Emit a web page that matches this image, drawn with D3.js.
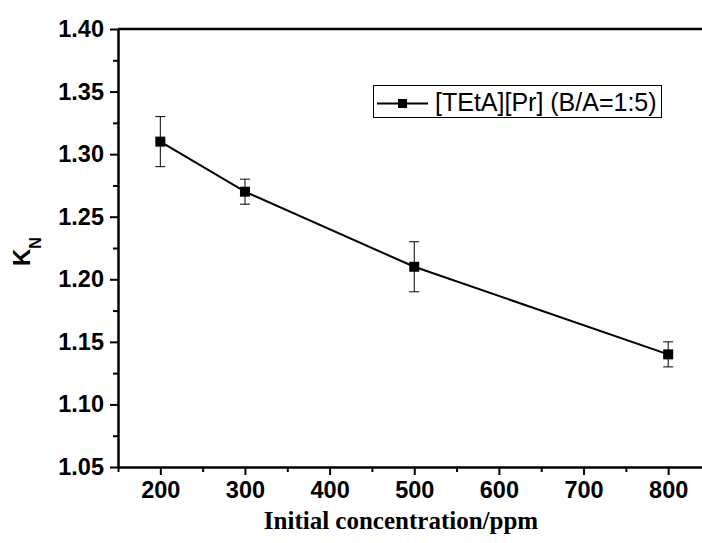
<!DOCTYPE html>
<html>
<head>
<meta charset="utf-8">
<script src="https://cdn.jsdelivr.net/npm/d3@7"></script>
<style>
  body { margin: 0; background: #fff; }
  svg { display: block; }
</style>
</head>
<body>
<div id="chart"></div>
<script>
// data
var concentration = [200, 300, 500, 800];
var kn = [1.31, 1.27, 1.21, 1.14];
var knErr = [0.02, 0.01, 0.02, 0.01];
var xTicks = [200, 300, 400, 500, 600, 700, 800];
var yTicks = [1.05, 1.10, 1.15, 1.20, 1.25, 1.30, 1.35, 1.40];
var seriesName = "[TEtA][Pr] (B/A=1:5)";

function init() {
    const w = 702;
    const h = 543;
    const left = 118, top = 29, bottom = 467;

    var x = d3.scaleLinear().domain([150, 850]).range([left, left + 592.5]);
    var y = d3.scaleLinear().domain([1.05, 1.40]).range([bottom, top]);

    var svg = d3.select("#chart")
        .append("svg")
        .attr("width", w)
        .attr("height", h);

    // minor ticks
    var xMinor = d3.range(150, 851, 50).filter(function (v) { return v % 100 !== 0; });
    var yMinor = d3.range(1.075, 1.40, 0.05);

    svg.append("g")
        .attr("transform", "translate(0," + bottom + ")")
        .call(d3.axisBottom(x).tickValues(xMinor).tickSize(5).tickFormat(""))
        .call(function (g) { g.select(".domain").remove(); })
        .selectAll("line").attr("stroke-width", 2);

    svg.append("g")
        .attr("transform", "translate(" + left + ",0)")
        .call(d3.axisLeft(y).tickValues(yMinor).tickSize(5).tickFormat(""))
        .call(function (g) { g.select(".domain").remove(); })
        .selectAll("line").attr("stroke-width", 2);

    // major axes
    var xAxis = svg.append("g")
        .attr("transform", "translate(0," + bottom + ")")
        .call(d3.axisBottom(x).tickValues(xTicks).tickSize(8).tickSizeOuter(0).tickPadding(6).tickFormat(d3.format("d")));

    var yAxis = svg.append("g")
        .attr("transform", "translate(" + left + ",0)")
        .call(d3.axisLeft(y).tickValues(yTicks).tickSize(8).tickSizeOuter(0).tickPadding(6).tickFormat(d3.format(".2f")));

    [xAxis, yAxis].forEach(function (g) {
        g.select(".domain").attr("stroke-width", 2.5);
        g.selectAll(".tick line").attr("stroke-width", 2);
        g.selectAll("text")
            .attr("font-family", "Arial, 'Liberation Sans', sans-serif")
            .attr("font-weight", "bold")
            .attr("font-size", 23.5)
            .attr("fill", "#000");
    });

    // top border
    svg.append("line")
        .attr("x1", left).attr("x2", w)
        .attr("y1", top).attr("y2", top)
        .attr("stroke", "#000").attr("stroke-width", 2.5);

    // error bars
    var eb = svg.append("g").attr("stroke", "#000").attr("stroke-width", 1);
    concentration.forEach(function (c, i) {
        var cx = x(c);
        eb.append("line").attr("x1", cx).attr("x2", cx)
            .attr("y1", y(kn[i] + knErr[i])).attr("y2", y(kn[i] - knErr[i]));
        eb.append("line").attr("x1", cx - 5).attr("x2", cx + 5)
            .attr("y1", y(kn[i] + knErr[i])).attr("y2", y(kn[i] + knErr[i]));
        eb.append("line").attr("x1", cx - 5).attr("x2", cx + 5)
            .attr("y1", y(kn[i] - knErr[i])).attr("y2", y(kn[i] - knErr[i]));
    });

    // line
    var line = d3.line()
        .x(function (d, i) { return x(concentration[i]); })
        .y(function (d) { return y(d); });

    svg.append("path")
        .datum(kn)
        .attr("fill", "none")
        .attr("stroke", "#000")
        .attr("stroke-width", 2)
        .attr("d", line);

    // markers
    svg.selectAll("rect.pt")
        .data(kn)
        .enter()
        .append("rect")
        .attr("class", "pt")
        .attr("x", function (d, i) { return x(concentration[i]) - 5; })
        .attr("y", function (d) { return y(d) - 5; })
        .attr("width", 10)
        .attr("height", 10)
        .attr("fill", "#000");

    // legend
    var lg = svg.append("g");
    lg.append("rect")
        .attr("x", 373.5).attr("y", 85.5)
        .attr("width", 288).attr("height", 32)
        .attr("fill", "#fff").attr("stroke", "#000").attr("stroke-width", 1);
    lg.append("line")
        .attr("x1", 377).attr("x2", 428)
        .attr("y1", 103.5).attr("y2", 103.5)
        .attr("stroke", "#000").attr("stroke-width", 2);
    lg.append("rect")
        .attr("x", 398).attr("y", 99)
        .attr("width", 9).attr("height", 9)
        .attr("fill", "#000");
    lg.append("text")
        .attr("x", 435).attr("y", 111)
        .attr("font-family", "Arial, 'Liberation Sans', sans-serif")
        .attr("font-size", 25)
        .attr("fill", "#000")
        .text(seriesName);

    // axis titles
    svg.append("text")
        .attr("x", 401).attr("y", 529)
        .attr("text-anchor", "middle")
        .attr("font-family", "'Times New Roman', 'Liberation Serif', serif")
        .attr("font-weight", "bold")
        .attr("font-size", 25)
        .text("Initial concentration/ppm");

    var yl = svg.append("text")
        .attr("transform", "translate(30,266) rotate(-90)")
        .attr("font-family", "Arial, 'Liberation Sans', sans-serif")
        .attr("font-weight", "bold")
        .attr("font-size", 24);
    yl.append("tspan").text("K");
    yl.append("tspan").attr("font-size", 16).attr("dy", 11).text("N");
}
window.onload = init();
</script>
</body>
</html>
